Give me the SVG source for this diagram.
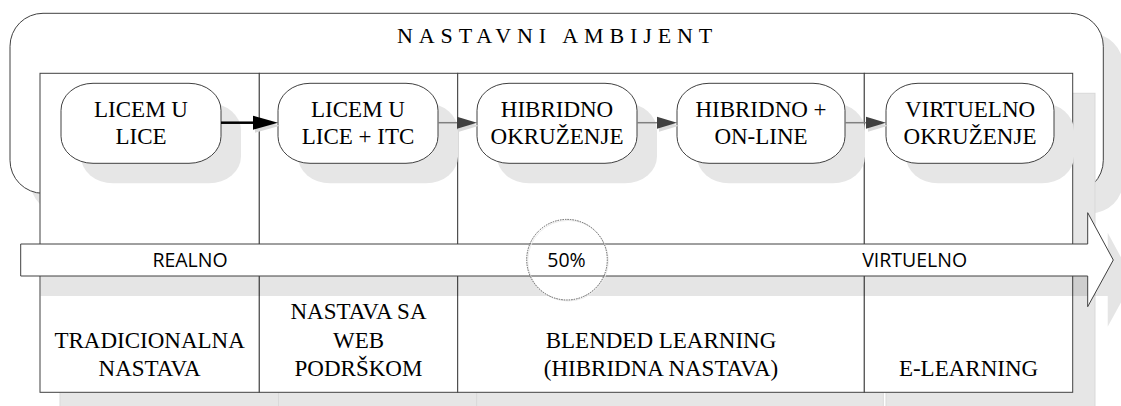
<svg xmlns="http://www.w3.org/2000/svg" width="1121" height="406" viewBox="0 0 1121 406">
<style>
.shadow{fill:#e6e6e6;stroke:none}
.box{fill:#fff;stroke:#404040;stroke-width:1}
.colshadow{fill:#e6e6e6;stroke:#d9d9d9;stroke-width:1}
.serif{font-family:'Liberation Serif','Times New Roman',serif;font-size:23px;fill:#000;text-anchor:middle}
.sans{font-family:'Open Sans','Noto Sans',sans-serif;font-size:19.5px;fill:#000;text-anchor:middle}
.title{font-family:'Liberation Serif','Times New Roman',serif;font-size:22px;fill:#000;letter-spacing:5.9px}
.conn{stroke:#808080;stroke-width:1.5;fill:none}
</style>
<defs>
<marker id="ahBlack" markerUnits="userSpaceOnUse" markerWidth="26" markerHeight="15" refX="0" refY="7" orient="auto" overflow="visible"><path d="M0,0 L25,7 L0,14 z" fill="#000"/></marker>
<marker id="ahGray" markerUnits="userSpaceOnUse" markerWidth="21" markerHeight="13" refX="0" refY="6" orient="auto" overflow="visible"><path d="M0,0 L20,6 L0,12 z" fill="#404040"/></marker>
<marker id="ahShadowBig" markerUnits="userSpaceOnUse" markerWidth="26" markerHeight="15" refX="0" refY="7" orient="auto" overflow="visible"><path d="M0,0 L25,7 L0,14 z" fill="#d9d9d9"/></marker>
<marker id="ahShadow" markerUnits="userSpaceOnUse" markerWidth="21" markerHeight="13" refX="0" refY="6" orient="auto" overflow="visible"><path d="M0,0 L20,6 L0,12 z" fill="#d9d9d9"/></marker>
</defs>

<g id="ambient">
<rect class="shadow" x="30" y="33.3" width="1093.3" height="180" rx="33" ry="33"/>
<rect class="box" x="10" y="13.3" width="1093.3" height="180" rx="33" ry="33"/>
<text class="title" x="397" y="43.3">NASTAVNI AMBIJENT</text>
</g>

<g id="column-shadows">
<rect class="colshadow" x="60" y="93.3" width="219.3" height="319"/>
<rect class="colshadow" x="278.5" y="93.3" width="198.4" height="319"/>
<rect class="colshadow" x="476.7" y="93.3" width="406.6" height="319"/>
<rect class="colshadow" x="886" y="93.3" width="209" height="319"/>
</g>

<g id="col-tradicionalna">
<rect class="box" x="40" y="73.3" width="219.3" height="319"/>
<text class="serif" x="149.6" y="347.7">TRADICIONALNA</text>
<text class="serif" x="149.6" y="375.7">NASTAVA</text>
</g>
<g id="col-web">
<rect class="box" x="259.3" y="73.3" width="198.4" height="319"/>
<text class="serif" x="358.5" y="319.3">NASTAVA SA</text>
<text class="serif" x="358.5" y="347.7">WEB</text>
<text class="serif" x="358.5" y="375.7">PODRŠKOM</text>
</g>
<g id="col-blended">
<rect class="box" x="457.7" y="73.3" width="406.6" height="319"/>
<text class="serif" x="661" y="347.7">BLENDED LEARNING</text>
<text class="serif" x="661" y="375.7">(HIBRIDNA NASTAVA)</text>
</g>
<g id="col-elearning">
<rect class="box" x="864.3" y="73.3" width="208.4" height="319"/>
<text class="serif" x="968.5" y="375.7">E-LEARNING</text>
</g>

<g id="node-licem-u-lice">
<rect class="shadow" x="81" y="103.3" width="160" height="80" rx="32" ry="27"/>
<rect class="box" x="61" y="83.3" width="160" height="80" rx="32" ry="27"/>
<text class="serif" x="141" y="117">LICEM U</text>
<text class="serif" x="141" y="144">LICE</text>
</g>
<g id="node-licem-u-lice-itc">
<rect class="shadow" x="298" y="103.3" width="160" height="80" rx="32" ry="27"/>
<rect class="box" x="278" y="83.3" width="160" height="80" rx="32" ry="27"/>
<text class="serif" x="358" y="117">LICEM U</text>
<text class="serif" x="358" y="144">LICE + ITC</text>
</g>
<g id="node-hibridno-okruzenje">
<rect class="shadow" x="497" y="103.3" width="160" height="80" rx="32" ry="27"/>
<rect class="box" x="477" y="83.3" width="160" height="80" rx="32" ry="27"/>
<text class="serif" x="557" y="117">HIBRIDNO</text>
<text class="serif" x="557" y="144">OKRUŽENJE</text>
</g>
<g id="node-hibridno-online">
<rect class="shadow" x="697" y="103.3" width="168" height="80" rx="32" ry="27"/>
<rect class="box" x="677" y="83.3" width="168" height="80" rx="32" ry="27"/>
<text class="serif" x="761" y="117">HIBRIDNO +</text>
<text class="serif" x="761" y="144">ON-LINE</text>
</g>
<g id="node-virtuelno-okruzenje">
<rect class="shadow" x="906" y="103.3" width="168" height="80" rx="32" ry="27"/>
<rect class="box" x="886" y="83.3" width="168" height="80" rx="32" ry="27"/>
<text class="serif" x="970" y="117">VIRTUELNO</text>
<text class="serif" x="970" y="144">OKRUŽENJE</text>
</g>

<g id="connectors">
<line x1="223" y1="125.7" x2="255" y2="125.7" stroke="none" marker-end="url(#ahShadowBig)"/>
<line x1="440" y1="125.7" x2="459" y2="125.7" stroke="none" marker-end="url(#ahShadow)"/>
<line x1="639" y1="125.7" x2="659" y2="125.7" stroke="none" marker-end="url(#ahShadow)"/>
<line x1="847" y1="125.7" x2="868" y2="125.7" stroke="none" marker-end="url(#ahShadow)"/>
<line x1="221" y1="122.7" x2="253" y2="122.7" stroke="#000" stroke-width="2.5" marker-end="url(#ahBlack)"/>
<line class="conn" x1="438" y1="122.7" x2="457" y2="122.7" marker-end="url(#ahGray)"/>
<line class="conn" x1="637" y1="122.7" x2="657" y2="122.7" marker-end="url(#ahGray)"/>
<line class="conn" x1="845" y1="122.7" x2="866" y2="122.7" marker-end="url(#ahGray)"/>
</g>

<g id="scale-arrow">
<path d="M40.7,264 H1107.7 V232.7 L1133.3,280 L1107.7,326.7 V296 H40.7 Z" fill="#000" fill-opacity="0.1"/>
<circle cx="567" cy="259.7" r="40.3" fill="#fff"/>
<path d="M20.7,244 H1087.7 V212.7 L1113.3,260 L1087.7,306.7 V276 H20.7 Z" fill="#fff" stroke="#404040" stroke-width="1"/>
<text class="sans" x="190" y="266.7">REALNO</text>
<text class="sans" x="914.7" y="266.7">VIRTUELNO</text>
</g>

<g id="marker-50">
<circle cx="568" cy="260.7" r="40.3" fill="none" stroke="#ececec" stroke-width="1"/>
<circle cx="567" cy="259.7" r="40.3" fill="none" stroke="#606060" stroke-width="1" stroke-dasharray="1.5 1"/>
<text class="sans" x="566.5" y="266.7">50%</text>
</g>
</svg>
